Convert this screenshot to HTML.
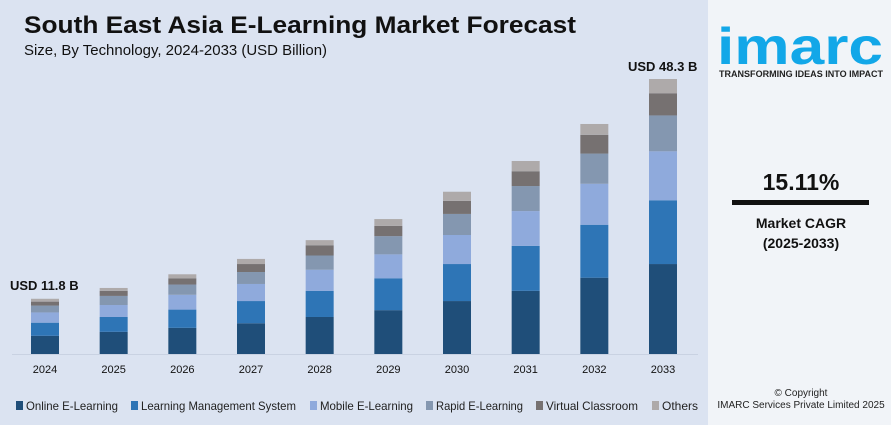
<!DOCTYPE html>
<html><head><meta charset="utf-8">
<style>
body{margin:0;width:891px;height:425px;overflow:hidden;background:#dbe3f1;font-family:"Liberation Sans",sans-serif;}
#wrap{position:relative;width:891px;height:425px;}
svg{position:absolute;left:0;top:0;}
</style></head>
<body>
<div id="wrap">
<svg id="chart" width="891" height="425">
  <rect x="708" y="0" width="183" height="425" fill="#f1f4f8"/>
  <text x="24" y="33" font-size="24" font-weight="bold" fill="#111" textLength="552" lengthAdjust="spacingAndGlyphs">South East Asia E-Learning Market Forecast</text>
  <text x="24" y="55" font-size="15" fill="#111" textLength="303" lengthAdjust="spacingAndGlyphs">Size, By Technology, 2024-2033 (USD Billion)</text>
  <line x1="12" y1="354.5" x2="698" y2="354.5" stroke="#c9d2e2" stroke-width="1"/>
  <g id="bars"></g>
  <g id="xlabels"></g>
  <text x="10" y="290" font-size="13" font-weight="bold" fill="#111">USD 11.8 B</text>
  <text x="628" y="71" font-size="13" font-weight="bold" fill="#111">USD 48.3 B</text>
  <g id="legend"></g>
  <text x="717" y="64" font-size="52" font-weight="bold" fill="#12a7e8" textLength="166" lengthAdjust="spacingAndGlyphs">imarc</text>
  <text x="719" y="77" font-size="9.3" font-weight="bold" fill="#222" textLength="164" lengthAdjust="spacingAndGlyphs">TRANSFORMING IDEAS INTO IMPACT</text>
  <text x="801" y="190" font-size="23" font-weight="bold" fill="#111" text-anchor="middle">15.11%</text>
  <rect x="732" y="200" width="137" height="5" fill="#111"/>
  <text x="801" y="228" font-size="14" font-weight="bold" fill="#111" text-anchor="middle">Market CAGR</text>
  <text x="801" y="248" font-size="14" font-weight="bold" fill="#111" text-anchor="middle">(2025-2033)</text>
  <text x="801" y="396" font-size="10" fill="#222" text-anchor="middle">© Copyright</text>
  <text x="801" y="408" font-size="10" fill="#222" text-anchor="middle">IMARC Services Private Limited 2025</text>
</svg>
</div>
<script>
const years=["2024","2025","2026","2027","2028","2029","2030","2031","2032","2033"];
const seriesNames=["Online E-Learning","Learning Management System","Mobile E-Learning","Rapid E-Learning","Virtual Classroom","Others"];
const onlineVals=[3.2,3.9,4.6,5.4,6.5,7.7,9.3,11.1,13.4,15.8];
const lmsVals=[2.3,2.6,3.2,3.9,4.6,5.6,6.5,7.9,9.3,11.2];
const mobileVals=[1.8,2.1,2.6,3.0,3.7,4.2,5.1,6.1,7.2,8.6];
const rapidVals=[1.2,1.6,1.8,2.1,2.5,3.2,3.7,4.4,5.3,6.3];
const virtualVals=[0.7,0.9,1.1,1.4,1.8,1.8,2.3,2.6,3.3,3.9];
const otherVals=[0.5,0.5,0.7,0.9,0.9,1.2,1.6,1.8,1.9,2.5];
const seriesVals=[onlineVals,lmsVals,mobileVals,rapidVals,virtualVals,otherVals];
const colors=["#1f4e79","#2e75b6","#8faadc","#8497b0","#767171","#aeaaaa"];
const NS="http://www.w3.org/2000/svg";
const baseY=354, pxPerUnit=275/48.3, x0=45, step=(663-45)/9, bw=28;
const yScale=v=>v*pxPerUnit;
const xScale=i=>x0+i*step;
const bars=document.getElementById('bars');
years.forEach((yr,i)=>{
  let acc=0;
  seriesVals.forEach((arr,s)=>{
    const h=yScale(arr[i]);
    const r=document.createElementNS(NS,'rect');
    r.setAttribute('x',xScale(i)-bw/2);
    r.setAttribute('y',baseY-yScale(acc)-h);
    r.setAttribute('width',bw);
    r.setAttribute('height',h);
    r.setAttribute('fill',colors[s]);
    
    
    bars.appendChild(r);
    acc+=arr[i];
  });
  const t=document.createElementNS(NS,'text');
  t.setAttribute('x',xScale(i));
  t.setAttribute('y',373);
  t.setAttribute('font-size','11');
  t.setAttribute('text-anchor','middle');
  t.setAttribute('fill','#111');
  t.textContent=yr;
  
  
  document.getElementById('xlabels').appendChild(t);
});
const legX=[16,131,310,426,536,652];
const legW=[92,155,93,87,92,36];
const leg=document.getElementById('legend');
seriesNames.forEach((n,s)=>{
  const g=document.createElementNS(NS,'g');
  
  
  const r=document.createElementNS(NS,'rect');
  r.setAttribute('x',legX[s]);r.setAttribute('y',401);r.setAttribute('width',7);r.setAttribute('height',9);
  r.setAttribute('fill',colors[s]);
  const t=document.createElementNS(NS,'text');
  t.setAttribute('x',legX[s]+10);t.setAttribute('y',410);t.setAttribute('font-size','12');t.setAttribute('fill','#222');
  t.setAttribute('textLength',legW[s]);t.setAttribute('lengthAdjust','spacingAndGlyphs');
  t.textContent=n;
  g.appendChild(r);g.appendChild(t);leg.appendChild(g);
});
</script>
</body></html>
